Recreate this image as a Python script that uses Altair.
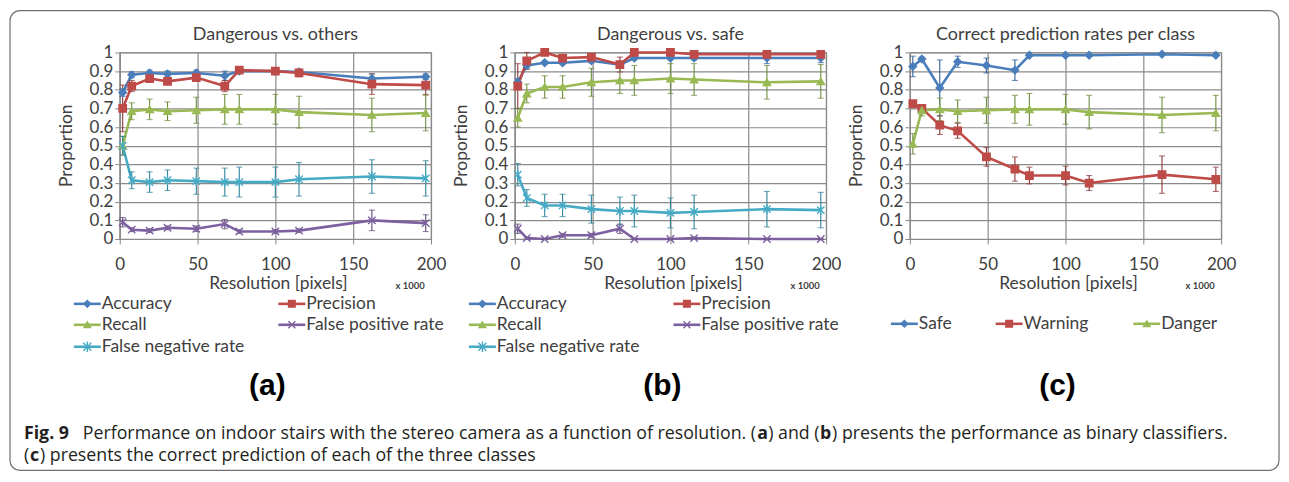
import altair as alt
import pandas as pd

# ---------------- data ----------------
resolution = [1.9, 7.7, 19.2, 30.7, 49.2, 67.5, 76.8, 100.0, 115.2, 162.0, 196.6]

a_names = ["Accuracy", "Precision", "Recall", "False positive rate", "False negative rate"]
a_accuracy = [0.785, 0.88, 0.89, 0.885, 0.89, 0.875, 0.90, 0.90, 0.895, 0.86, 0.87]
a_accuracy_err = [0.02, 0.015, 0.015, 0.015, 0.015, 0.025, 0.01, 0.01, 0.01, 0.025, 0.015]
a_precision = [0.70, 0.82, 0.86, 0.845, 0.865, 0.82, 0.905, 0.90, 0.89, 0.83, 0.825]
a_precision_err = [0.125, 0.03, 0.02, 0.015, 0.02, 0.03, 0.01, 0.015, 0.02, 0.055, 0.05]
a_recall = [0.50, 0.685, 0.695, 0.685, 0.69, 0.695, 0.695, 0.695, 0.68, 0.665, 0.675]
a_recall_err = [0.05, 0.045, 0.055, 0.05, 0.07, 0.08, 0.08, 0.08, 0.085, 0.09, 0.095]
a_fpr = [0.09, 0.05, 0.045, 0.06, 0.055, 0.08, 0.04, 0.04, 0.045, 0.10, 0.085]
a_fpr_err = [0.025, 0.01, 0.01, 0.01, 0.015, 0.025, 0.01, 0.01, 0.01, 0.055, 0.045]
a_fnr = [0.50, 0.315, 0.305, 0.315, 0.31, 0.305, 0.305, 0.305, 0.32, 0.335, 0.325]
a_fnr_err = [0.05, 0.045, 0.055, 0.055, 0.07, 0.075, 0.08, 0.08, 0.09, 0.09, 0.095]

b_names = ["Accuracy", "Precision", "Recall", "False positive rate", "False negative rate"]
b_accuracy = [0.84, 0.93, 0.945, 0.945, 0.955, 0.935, 0.97, 0.97, 0.97, 0.97, 0.97]
b_accuracy_err = [0.02, 0.015, 0.01, 0.01, 0.01, 0.015, 0.01, 0.01, 0.01, 0.03, 0.025]
b_precision = [0.82, 0.955, 1.0, 0.97, 0.975, 0.935, 1.0, 1.0, 0.99, 0.99, 0.99]
b_precision_err = [0.12, 0.045, 0.0, 0.01, 0.01, 0.04, 0.0, 0.0, 0.01, 0.01, 0.01]
b_recall = [0.65, 0.78, 0.815, 0.815, 0.84, 0.85, 0.85, 0.86, 0.855, 0.84, 0.845]
b_recall_err = [0.05, 0.05, 0.06, 0.06, 0.075, 0.07, 0.08, 0.08, 0.085, 0.09, 0.09]
b_fpr = [0.055, 0.005, 0.0, 0.02, 0.02, 0.055, 0.0, 0.0, 0.005, 0.0, 0.0]
b_fpr_err = [0.025, 0.005, 0.0, 0.01, 0.01, 0.025, 0.0, 0.0, 0.005, 0.0, 0.0]
b_fnr = [0.345, 0.22, 0.18, 0.18, 0.16, 0.15, 0.15, 0.14, 0.145, 0.16, 0.155]
b_fnr_err = [0.06, 0.045, 0.06, 0.06, 0.075, 0.075, 0.085, 0.08, 0.09, 0.095, 0.095]

c_names = ["Safe", "Warning", "Danger"]
c_safe = [0.925, 0.965, 0.81, 0.95, 0.93, 0.905, 0.985, 0.985, 0.985, 0.99, 0.985]
c_safe_err = [0.055, 0.01, 0.15, 0.03, 0.04, 0.055, 0.005, 0.005, 0.005, 0.005, 0.005]
c_warning = [0.725, 0.70, 0.61, 0.58, 0.44, 0.375, 0.34, 0.34, 0.30, 0.345, 0.32]
c_warning_err = [0.01, 0.02, 0.05, 0.04, 0.05, 0.065, 0.045, 0.05, 0.04, 0.10, 0.065]
c_danger = [0.51, 0.69, 0.695, 0.685, 0.69, 0.695, 0.695, 0.695, 0.68, 0.665, 0.675]
c_danger_err = [0.055, 0.03, 0.06, 0.06, 0.07, 0.075, 0.085, 0.08, 0.09, 0.095, 0.095]

x_ticks = [0, 50, 100, 150, 200]
y_ticks = [0.0, 0.1, 0.2, 0.3, 0.4, 0.5, 0.6, 0.7, 0.8, 0.9, 1.0]

# ---------------- styling ----------------
FONT = "Lato"
TXT = "#404040"
GRID = "#8a8a8a"
W, H = 312, 187

BLUE, RED, GREEN, PURPLE, CYAN = "#4A7EBB", "#BE4B48", "#98B954", "#7D60A0", "#46AAC5"
DBLUE, DRED, DGREEN, DPURPLE, DCYAN = "#2F5F98", "#8C3836", "#6E8B3D", "#5C4776", "#31859C"
X_SHAPE = "M-1,-1L1,1M-1,1L1,-1"
STAR_SHAPE = "M-1,-1L1,1M-1,1L1,-1M0,-1.3L0,1.3"

five_colors = [BLUE, RED, GREEN, PURPLE, CYAN]
five_err = [DBLUE, DRED, DGREEN, DPURPLE, DCYAN]
five_shapes = ["diamond", "square", "triangle-up", X_SHAPE, STAR_SHAPE]
five_sizes = [55, 55, 55, 60, 80]

one = pd.DataFrame({"k": [0]})


def txt(s, x, y, size=17, weight="normal", align="center", angle=0, font=FONT, color=TXT):
    return alt.Chart(one).mark_text(
        text=s, fontSize=size, fontWeight=weight, align=align, baseline="middle",
        angle=angle, font=font, color=color
    ).encode(x=alt.value(x), y=alt.value(y))


def legend_item(name, color, shape, size, x0, y):
    line = alt.Chart(one).mark_rule(color=color, strokeWidth=2.6).encode(
        x=alt.value(x0), x2=alt.value(x0 + 27), y=alt.value(y))
    pt = alt.Chart(one).mark_point(
        shape=shape, filled=True, color=color, stroke=color, strokeWidth=1.4,
        size=size * 0.8, opacity=1
    ).encode(x=alt.value(x0 + 13.5), y=alt.value(y))
    label = txt(name, x0 + 28, y, size=17.5, align="left")
    return [line, pt, label]


def panel(title, names, values, errs, colors, errcolors, shapes, sizes, legend_pos, tag):
    rows = []
    for n, v, e in zip(names, values, errs):
        for r, y, d in zip(resolution, v, e):
            rows.append({"res": r, "val": y, "lo": y - d, "hi": y + d, "series": n})
    df = pd.DataFrame(rows)
    cscale = alt.Scale(domain=names, range=colors)
    escale = alt.Scale(domain=names, range=errcolors)
    base = alt.Chart(df)
    xaxis = alt.Axis(values=x_ticks, title=None, grid=True, labelFontSize=17,
                     labelPadding=13, tickSize=5, labelFlush=False, labelOverlap=False)
    yaxis = alt.Axis(values=y_ticks, format=".1~f", title=None, grid=True,
                     labelFontSize=17, labelPadding=2, tickSize=5,
                     labelOverlap=False, labelFlush=False)
    xs = alt.Scale(domain=[0, 200], nice=False, zero=False)
    ys = alt.Scale(domain=[0, 1], nice=False)

    def X():
        return alt.X("res:Q", scale=xs, axis=xaxis)

    def Y(f):
        return alt.Y(f, scale=ys, axis=yaxis)

    lines = base.mark_line(strokeWidth=2.6).encode(
        x=X(), y=Y("val:Q"), color=alt.Color("series:N", scale=cscale, legend=None))
    bars = base.mark_rule(strokeWidth=1.1).encode(
        x=X(), y=Y("lo:Q"), y2="hi:Q",
        color=alt.Color("series:N", scale=escale, legend=None))
    cap_lo = base.mark_tick(orient="horizontal", size=6, thickness=1.1).encode(
        x=X(), y=Y("lo:Q"), color=alt.Color("series:N", scale=escale, legend=None))
    cap_hi = base.mark_tick(orient="horizontal", size=6, thickness=1.1).encode(
        x=X(), y=Y("hi:Q"), color=alt.Color("series:N", scale=escale, legend=None))
    points = base.mark_point(filled=True, strokeWidth=1.4, opacity=1).encode(
        x=X(), y=Y("val:Q"),
        color=alt.Color("series:N", scale=cscale, legend=None),
        stroke=alt.Stroke("series:N", scale=cscale, legend=None),
        shape=alt.Shape("series:N", scale=alt.Scale(domain=names, range=shapes), legend=None),
        size=alt.Size("series:N", scale=alt.Scale(domain=names, range=sizes), legend=None))
    layers = [lines, bars, cap_lo, cap_hi, points]
    layers.append(txt(title, W / 2, -17, size=18))
    layers.append(txt("Resolution [pixels]", W / 2 + 3, 232, size=17.5))
    layers.append(txt("x 1000", 291, 234, size=9.5, weight="bold"))
    layers.append(txt("Proportion", -53, H / 2, size=17.5, angle=270))
    layers.append(txt(tag, 148, 334, size=30, weight="bold", font="Liberation Sans", color="#000000"))
    for (n, c, s, sz), (lx, ly) in zip(zip(names, colors, shapes, sizes), legend_pos):
        layers += legend_item(n, c, s, sz, lx, ly)
    return layers


legend_five = [(-46, 252), (159, 252), (-46, 273), (159, 273), (-46, 295)]
legend_three = [(-19, 272), (86, 272), (224, 272)]

layers_a = panel("Dangerous vs. others", a_names,
                 [a_accuracy, a_precision, a_recall, a_fpr, a_fnr],
                 [a_accuracy_err, a_precision_err, a_recall_err, a_fpr_err, a_fnr_err],
                 five_colors, five_err, five_shapes, five_sizes, legend_five, "(a)")
layers_b = panel("Dangerous vs. safe", b_names,
                 [b_accuracy, b_precision, b_recall, b_fpr, b_fnr],
                 [b_accuracy_err, b_precision_err, b_recall_err, b_fpr_err, b_fnr_err],
                 five_colors, five_err, five_shapes, five_sizes, legend_five, "(b)")
layers_c = panel("Correct prediction rates per class", c_names,
                 [c_safe, c_warning, c_danger],
                 [c_safe_err, c_warning_err, c_danger_err],
                 [BLUE, RED, GREEN], [DBLUE, DRED, DGREEN],
                 ["diamond", "square", "triangle-up"], [55, 55, 55], legend_three, "(c)")

# figure frame and caption (placed relative to panel (a)'s plot area)
OX, OY = 118, 50
frame = alt.Chart(one).mark_rect(fillOpacity=0, stroke="#707070", strokeWidth=1.2, cornerRadius=10).encode(
    x=alt.value(8 - OX), x2=alt.value(1280 - OX), y=alt.value(8 - OY), y2=alt.value(469 - OY))
CAP = "Open Sans"
CAPC = "#231f20"
CS = 17.8
cap_y1, cap_y2 = 432 - OY, 455 - OY
caption = [
    txt("Fig. 9", 22 - OX, cap_y1, size=CS, weight="bold", align="left", font=CAP, color=CAPC),
    txt("Performance on indoor stairs with the stereo camera as a function of resolution. (",
        81 - OX, cap_y1, size=CS, align="left", font=CAP, color=CAPC),
    txt("a", 757 - OX, cap_y1, size=CS, weight="bold", align="left", font=CAP, color=CAPC),
    txt(") and (", 768 - OX, cap_y1, size=CS, align="left", font=CAP, color=CAPC),
    txt("b", 820 - OX, cap_y1, size=CS, weight="bold", align="left", font=CAP, color=CAPC),
    txt(") presents the performance as binary classifiers.", 832 - OX, cap_y1, size=CS,
        align="left", font=CAP, color=CAPC),
    txt("(", 22 - OX, cap_y2, size=CS, align="left", font=CAP, color=CAPC),
    txt("c", 28 - OX, cap_y2, size=CS, weight="bold", align="left", font=CAP, color=CAPC),
    txt(") presents the correct prediction of each of the three classes", 38 - OX, cap_y2,
        size=CS, align="left", font=CAP, color=CAPC),
]

pa = alt.layer(*(layers_a + [frame] + caption)).properties(width=W, height=H).resolve_scale(
    color="independent")
pb = alt.layer(*layers_b).properties(width=W, height=H).resolve_scale(color="independent")
pc = alt.layer(*layers_c).properties(width=W, height=H).resolve_scale(color="independent")

chart = alt.hconcat(pa, pb, pc, spacing=84, bounds="flush").properties(
    padding={"left": 0, "top": 0, "right": 0, "bottom": 0}
).configure_view(stroke=GRID, strokeWidth=1.2).configure_axis(
    gridColor=GRID, gridWidth=1.2, domainColor=GRID, tickColor=GRID, domainWidth=1.2,
    labelFont=FONT, labelColor=TXT, titleFont=FONT
)

chart.save("out.html", embed_options={"renderer": "svg", "actions": False})
